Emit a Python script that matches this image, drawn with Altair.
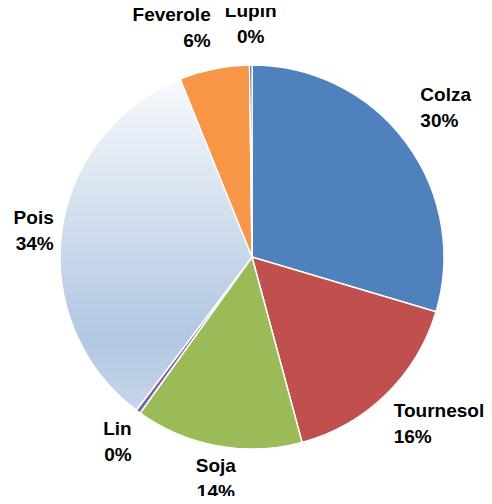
import altair as alt
import pandas as pd

categories = ["Colza", "Tournesol", "Soja", "Lin", "Pois", "Feverole", "Lupin"]
values = [29.6, 16.2, 14.1, 0.4, 33.6, 5.9, 0.2]
colors = ["#4f81bd", "#c0504d", "#9bbb59", "#8064a2", "#b9cde5", "#f79646", "#1f3b66"]

df = pd.DataFrame({"cat": categories, "v": values, "idx": list(range(len(categories)))})

pois_gradient = alt.LinearGradient(
    gradient="linear",
    x1=0.5, y1=0, x2=0.5, y2=1,
    stops=[
        alt.GradientStop(color="#f7f9fc", offset=0),
        alt.GradientStop(color="#b2c7e2", offset=0.78),
        alt.GradientStop(color="#c6d6eb", offset=1),
    ],
)

theta_scale = alt.Scale(domain=[0, 100])
CX, CY = 244, 249

base = alt.Chart(df)

pie = base.mark_arc(radius=192, stroke="white", strokeWidth=1.5).encode(
    theta=alt.Theta("v:Q", stack=True, scale=theta_scale),
    order=alt.Order("idx:Q"),
    x=alt.value(CX),
    y=alt.value(CY),
    fill=alt.condition(
        "datum.cat === 'Pois'",
        alt.value(pois_gradient),
        alt.Color("cat:N", scale=alt.Scale(domain=categories, range=colors), legend=None),
    ),
)

labels = base.transform_window(
    cum="sum(v)", sort=[alt.SortField("idx")], frame=[None, 0]
).transform_calculate(
    mid="datum.cum - datum.v / 2",
    s="sin(2 * PI * (datum.cum - datum.v / 2) / 100)",
    c="cos(2 * PI * (datum.cum - datum.v / 2) / 100)",
    label="datum.cat + '\\n' + format(datum.v / 100, '.0%')",
).mark_text(
    radius={"expr": "abs(datum.c) < 0.3 ? 200 : (datum.c < 0 ? 203 : 210)"},
    font="Liberation Sans",
    fontWeight="bold",
    fontSize=19,
    lineHeight=26,
    lineBreak="\n",
    color="black",
    align={"expr": "datum.s > 0.3 ? 'left' : ((datum.s < -0.3 || (datum.c > 0 && datum.s < -0.1)) ? 'right' : 'center')"},
    baseline={"expr": "datum.c > 0.3 ? 'bottom' : (datum.c < -0.3 ? 'top' : 'middle')"},
    dy={"expr": "datum.c > 0.3 ? -26 : (datum.c < -0.3 ? 0 : -13)"},
).encode(
    theta=alt.Theta("mid:Q", stack=None, scale=theta_scale),
    x=alt.value(CX),
    y=alt.value(CY),
    text=alt.Text("label:N"),
)

chart = alt.layer(pie, labels).properties(
    width=476,
    height=488,
    padding=0,
    autosize=alt.AutoSizeParams(type="none"),
).configure_view(stroke=None)

chart.save("out.html", embed_options={"renderer": "svg", "actions": False})
